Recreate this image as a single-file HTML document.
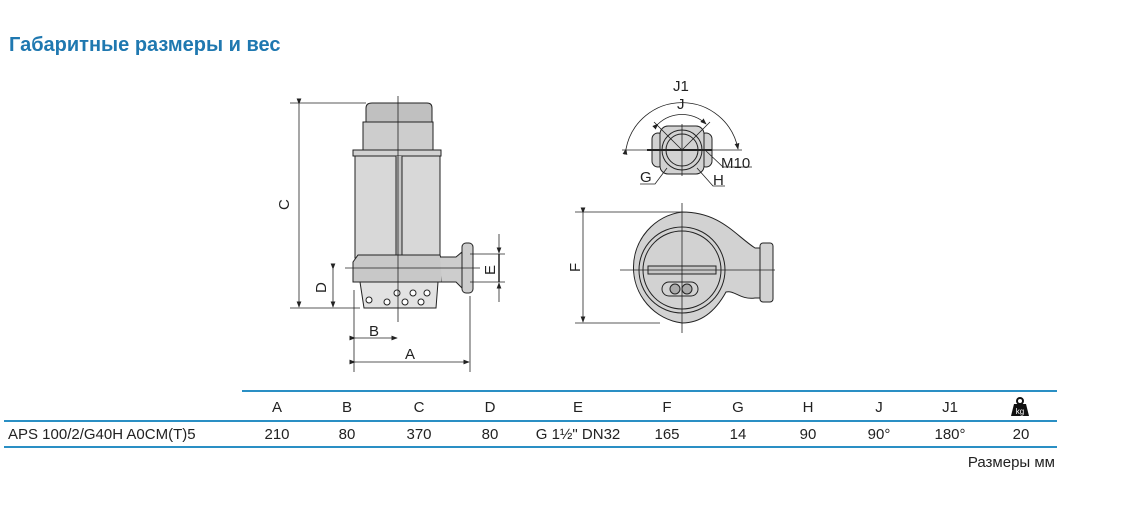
<!DOCTYPE html>
<html><head><meta charset="utf-8"><style>
body{margin:0;width:1141px;height:506px;background:#fff;position:relative;overflow:hidden;font-family:"Liberation Sans",sans-serif}
.t{position:absolute;left:9px;top:34px;font-size:20px;font-weight:bold;color:#1f78b0}
.c{position:absolute;font-size:15px;color:#222;text-align:center;width:60px;margin-left:-30px}
.ln{position:absolute;height:2px;background:#2a8fc4}
</style></head><body>
<div class="t">Габаритные размеры и вес</div>
<svg width="1141" height="506" style="position:absolute;left:0;top:0" font-family="Liberation Sans,sans-serif">
<defs><marker id="a" markerWidth="8" markerHeight="6" refX="7" refY="3" orient="auto"><path d="M0,0L8,3L0,6z" fill="#222"/></marker></defs>
<g stroke="#222" stroke-width="1" fill="#d2d2d2">
<path d="M366,125 L366,108 Q366,103 372,103 L427,103 Q432,103 432,108 L432,125" fill="#c0c0c0"/>
<rect x="363" y="122" width="70" height="30" fill="#cdcdcd"/>
<rect x="353" y="150" width="88" height="6"/>
<rect x="355" y="156" width="85" height="102" fill="#d8d8d8"/>
<path d="M396,156 L396,255 L399,262 L402,255 L402,156" fill="#c4c4c4"/>
<path d="M353,262 L358,255 L440,255 L442,262 L442,282 L353,282z" fill="#c8c8c8"/>
<path d="M360,282 L438,282 L436,308 L364,308z" fill="#e2e2e2"/>
<circle cx="397" cy="293" r="3" fill="#fff"/><circle cx="405" cy="302" r="3" fill="#fff"/><circle cx="413" cy="293" r="3" fill="#fff"/><circle cx="421" cy="302" r="3" fill="#fff"/><circle cx="427" cy="293" r="3" fill="#fff"/><circle cx="387" cy="302" r="3" fill="#fff"/><circle cx="369" cy="300" r="3" fill="#fff"/>
<path d="M440,257 L456,257 L462,252 L462,288 L456,282 L442,282" fill="#cdcdcd"/>
<rect x="462" y="243" width="11" height="50" rx="4" fill="#cdcdcd"/>
<rect x="652" y="133" width="12" height="34" rx="6"/>
<rect x="700" y="133" width="12" height="34" rx="6"/>
<rect x="660" y="126" width="44" height="48" rx="8"/>
<circle cx="682" cy="150" r="20"/>
<circle cx="682" cy="150" r="16"/>
<path d="M682,212 C720,212 735,235 755,248 L760,248 L760,298 L755,298 C740,300 735,290 726,292 C715,312 700,323 682,323 A56,56 0 0 1 682,212z"/>
<rect x="760" y="243" width="13" height="59" rx="3"/>
<circle cx="682" cy="270" r="43"/>
<circle cx="682" cy="270" r="39"/>
<rect x="648" y="266" width="68" height="8" fill="#c6c6c6"/>
<rect x="662" y="282" width="36" height="14" rx="7"/>
<circle cx="675" cy="289" r="5" fill="#aaa"/><circle cx="687" cy="289" r="5" fill="#aaa"/>
</g>
<g stroke="#222" stroke-width="0.8" fill="none">
<line x1="398" y1="96" x2="398" y2="322"/>
<line x1="290" y1="103" x2="366" y2="103"/><line x1="290" y1="308" x2="360" y2="308"/>
<line x1="299" y1="104" x2="299" y2="307" marker-start="url(#a)" marker-end="url(#a)"/>
<line x1="345" y1="268" x2="480" y2="268"/>
<line x1="333" y1="269" x2="333" y2="307" marker-start="url(#a)" marker-end="url(#a)"/>
<line x1="470" y1="254" x2="505" y2="254"/><line x1="470" y1="282" x2="505" y2="282"/>
<line x1="499" y1="234" x2="499" y2="253" marker-end="url(#a)"/><line x1="499" y1="302" x2="499" y2="283" marker-end="url(#a)"/>
<line x1="499" y1="254" x2="499" y2="282" stroke-width="1.5"/>
<line x1="354" y1="290" x2="354" y2="372"/><line x1="470" y1="296" x2="470" y2="372"/>
<line x1="355" y1="338" x2="397" y2="338" marker-start="url(#a)" marker-end="url(#a)"/>
<line x1="355" y1="362" x2="469" y2="362" marker-start="url(#a)" marker-end="url(#a)"/>
<line x1="622" y1="150" x2="742" y2="150"/><line x1="647" y1="150" x2="712" y2="150" stroke-width="2"/>
<line x1="682" y1="124" x2="682" y2="176"/>
<line x1="654" y1="122" x2="682" y2="150"/><line x1="710" y1="122" x2="682" y2="150"/>
<path d="M626,149 A57,57 0 0 1 738,149" marker-start="url(#a)" marker-end="url(#a)"/>
<path d="M658,124 A35,35 0 0 1 706,124" marker-start="url(#a)" marker-end="url(#a)"/>
<path d="M705,150 L723,167 L752,167"/><path d="M697,168 L713,186 L725,186"/><path d="M667,168 L655,184 L640,184"/>
<line x1="682" y1="203" x2="682" y2="333"/><line x1="620" y1="270" x2="775" y2="270"/>
<line x1="575" y1="212" x2="682" y2="212"/><line x1="575" y1="323" x2="660" y2="323"/>
<line x1="583" y1="213" x2="583" y2="322" marker-start="url(#a)" marker-end="url(#a)"/>
</g>
<g font-size="15" fill="#222">
<text x="289" y="210" transform="rotate(-90 289 210)">C</text>
<text x="326" y="293" transform="rotate(-90 326 293)">D</text>
<text x="495" y="275" transform="rotate(-90 495 275)">E</text>
<text x="580" y="272" transform="rotate(-90 580 272)">F</text>
<text x="369" y="336">B</text><text x="405" y="359">A</text>
<text x="673" y="91">J1</text><text x="677" y="109">J</text>
<text x="721" y="168">M10</text><text x="640" y="182">G</text><text x="713" y="185">H</text>
</g>
</svg>
<div class="ln" style="left:242px;width:815px;top:390px"></div>
<div class="ln" style="left:4px;width:1053px;top:420px"></div>
<div class="ln" style="left:4px;width:1053px;top:446px"></div>
<div class="c" style="left:277px;top:399px">A</div><div class="c" style="left:347px;top:399px">B</div><div class="c" style="left:419px;top:399px">C</div><div class="c" style="left:490px;top:399px">D</div><div class="c" style="left:578px;top:399px">E</div><div class="c" style="left:667px;top:399px">F</div><div class="c" style="left:738px;top:399px">G</div><div class="c" style="left:808px;top:399px">H</div><div class="c" style="left:879px;top:399px">J</div><div class="c" style="left:950px;top:399px">J1</div>
<svg style="position:absolute;left:1010px;top:397px" width="20" height="20"><circle cx="10" cy="4" r="3" fill="none" stroke="#111" stroke-width="2"/><path d="M4,7 L16,7 L19,19 L1,19z" fill="#111"/><text x="10" y="17" font-size="8" fill="#fff" text-anchor="middle" font-family="Liberation Sans">kg</text></svg>
<div style="position:absolute;left:8px;top:426px;font-size:15px;color:#222">APS 100/2/G40H A0CM(T)5</div>
<div class="c" style="left:277px;top:426px">210</div><div class="c" style="left:347px;top:426px">80</div><div class="c" style="left:419px;top:426px">370</div><div class="c" style="left:490px;top:426px">80</div><div class="c" style="left:578px;top:426px;width:120px;margin-left:-60px">G 1½" DN32</div><div class="c" style="left:667px;top:426px">165</div><div class="c" style="left:738px;top:426px">14</div><div class="c" style="left:808px;top:426px">90</div><div class="c" style="left:879px;top:426px">90°</div><div class="c" style="left:950px;top:426px">180°</div><div class="c" style="left:1021px;top:426px">20</div>
<div style="position:absolute;right:86px;top:454px;font-size:15px;color:#222">Размеры мм</div>
</body></html>
